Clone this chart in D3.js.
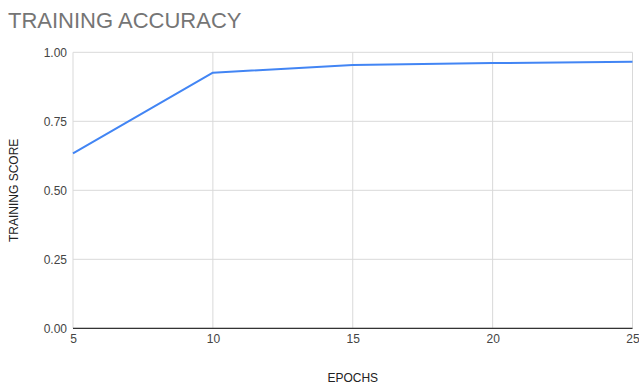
<!DOCTYPE html>
<html>
<head>
<meta charset="utf-8">
<script src="https://cdn.jsdelivr.net/npm/d3@7"></script>
<style>
  html, body { margin: 0; padding: 0; background: #fff; }
  svg { display: block; font-family: Arial, "Liberation Sans", sans-serif; }
</style>
</head>
<body>
<svg id="chart" width="639" height="385"></svg>
<script>
// Training accuracy per epoch
const epochs = [5, 10, 15, 20, 25];
const accuracy = [0.634, 0.926, 0.954, 0.961, 0.966];
const xTicks = [5, 10, 15, 20, 25];
const yTicks = [0, 0.25, 0.5, 0.75, 1.0];

const svg = d3.select("#chart");
const margin = { left: 73, right: 6.5, top: 52.3, bottom: 56.7 };
const W = 639, H = 385;

const x = d3.scaleLinear().domain([5, 25]).range([margin.left, W - margin.right]);
const y = d3.scaleLinear().domain([0, 1]).range([H - margin.bottom, margin.top]);

// Title
svg.append("text")
  .attr("x", 8).attr("y", 28)
  .attr("font-size", 22)
  .attr("fill", "#757575")
  .text("TRAINING ACCURACY");

// Horizontal gridlines
svg.append("g")
  .selectAll("line")
  .data(yTicks)
  .join("line")
  .attr("x1", margin.left).attr("x2", W - margin.right)
  .attr("y1", d => y(d)).attr("y2", d => y(d))
  .attr("stroke", "#d9d9d9").attr("stroke-width", 1);

// Vertical gridlines
svg.append("g")
  .selectAll("line")
  .data(xTicks)
  .join("line")
  .attr("x1", d => x(d)).attr("x2", d => x(d))
  .attr("y1", margin.top).attr("y2", H - margin.bottom)
  .attr("stroke", "#d9d9d9").attr("stroke-width", 1);

// Baseline
svg.append("line")
  .attr("x1", margin.left).attr("x2", W - margin.right)
  .attr("y1", y(0)).attr("y2", y(0))
  .attr("stroke", "#333").attr("stroke-width", 1.2);

// Y axis labels
const yAxis = d3.axisLeft(y).tickValues(yTicks).tickFormat(d3.format(".2f")).tickSize(0).tickPadding(6);
svg.append("g")
  .attr("transform", `translate(${margin.left},0)`)
  .call(yAxis)
  .call(g => g.select(".domain").remove())
  .call(g => g.selectAll("text").attr("font-size", 12).attr("fill", "#444").attr("font-family", "Arial, 'Liberation Sans', sans-serif"));

// X axis labels
const xAxis = d3.axisBottom(x).tickValues(xTicks).tickFormat(d3.format("d")).tickSize(0).tickPadding(6);
svg.append("g")
  .attr("transform", `translate(0,${y(0)})`)
  .call(xAxis)
  .call(g => g.select(".domain").remove())
  .call(g => g.selectAll("text").attr("font-size", 12).attr("fill", "#444").attr("font-family", "Arial, 'Liberation Sans', sans-serif"));

// Axis titles
svg.append("text")
  .attr("x", (margin.left + W - margin.right) / 2).attr("y", 382)
  .attr("text-anchor", "middle")
  .attr("font-size", 12).attr("fill", "#222")
  .text("EPOCHS");

svg.append("text")
  .attr("transform", `translate(18,${(y(0) + y(1)) / 2}) rotate(-90)`)
  .attr("text-anchor", "middle")
  .attr("font-size", 12).attr("fill", "#222")
  .text("TRAINING SCORE");

// Accuracy line
const line = d3.line().x((d, i) => x(epochs[i])).y(d => y(d));
svg.append("path")
  .datum(accuracy)
  .attr("fill", "none")
  .attr("stroke", "#4285F4")
  .attr("stroke-width", 2)
  .attr("stroke-linejoin", "round")
  .attr("d", line);
</script>
</body>
</html>
